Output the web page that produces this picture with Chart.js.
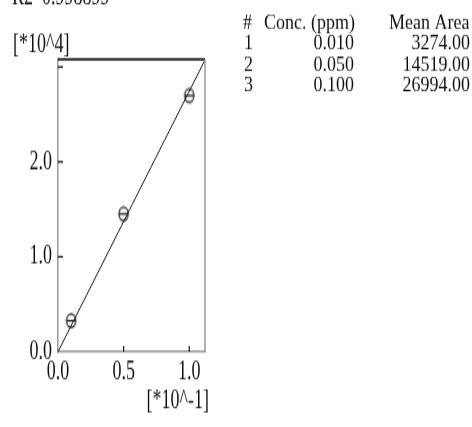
<!DOCTYPE html>
<html>
<head>
<meta charset="utf-8">
<script src="https://cdn.jsdelivr.net/npm/chart.js@4"></script>
<style>
  html, body { margin: 0; padding: 0; background: #fff; width: 472px; height: 427px; overflow: hidden; }
  #outer { position: relative; width: 472px; height: 427px; overflow: hidden; }
  #wrap { position: absolute; left: 0; top: 0; width: 472px; height: 295px; transform-origin: 0 0; transform: scale(1, 1.4475); }
  canvas { display: block; }
</style>
</head>
<body>
<div id="outer"><div id="wrap"><canvas id="c" width="472" height="295"></canvas></div></div>
<script>
// ---- data ----
const sampleNo   = [1, 2, 3];
const concPpm    = [0.010, 0.050, 0.100];
const meanArea   = [3274.00, 14519.00, 26994.00];
const r2Value    = "0.998899";
const xTickValues = [0.0, 0.5, 1.0];   // in units of 10^-1 ppm
const yTickValues = [0, 1, 2, 3];      // in units of 10^4
const xUnitLabel = "[*10^-1]";
const yUnitLabel = "[*10^4]";
const xMax = 1.12, yMax = 3.08;

// plot units
const xs = concPpm.map(c => c * 10);
const ys = meanArea.map(a => a / 1e4);
// calibration fit through origin
const fitSlope = xs.reduce((s, x, i) => s + x * ys[i], 0) / xs.reduce((s, x) => s + x * x, 0);

const FONT = "'Liberation Serif', 'Times New Roman', serif";

// theta-shaped marker
function makeMarker() {
  const c = document.createElement('canvas');
  c.width = 13; c.height = 13;
  const g = c.getContext('2d');
  g.strokeStyle = '#111'; g.lineWidth = 1.2;
  g.beginPath(); g.arc(6.5, 6.5, 4.6, 0, Math.PI * 2); g.stroke();
  g.beginPath(); g.moveTo(2.2, 6.5); g.lineTo(10.8, 6.5); g.stroke();
  return c;
}

function squatText(ctx, txt, x, y, sy) {
  ctx.save();
  ctx.translate(x, y);
  ctx.scale(1, sy);
  ctx.fillText(txt, 0, 0);
  ctx.restore();
}

const decor = {
  id: 'decor',
  afterDraw(chart) {
    const ctx = chart.ctx, a = chart.chartArea;
    const xs_ = chart.scales.x, ys_ = chart.scales.y;
    ctx.save();
    // frame: top black, right gray
    ctx.strokeStyle = '#000'; ctx.lineWidth = 1.5;
    ctx.beginPath(); ctx.moveTo(a.left, a.top); ctx.lineTo(a.right, a.top); ctx.stroke();
    ctx.strokeStyle = '#999'; ctx.lineWidth = 1.5;
    ctx.beginPath(); ctx.moveTo(a.right, a.top); ctx.lineTo(a.right, a.bottom); ctx.stroke();
    // inward tick marks
    ctx.strokeStyle = '#111'; ctx.lineWidth = 1.2;
    ys_.ticks.forEach(t => {
      if (t.value === 0) return;
      const p = ys_.getPixelForValue(t.value);
      ctx.beginPath(); ctx.moveTo(a.left, p); ctx.lineTo(a.left + 5, p); ctx.stroke();
    });
    xs_.ticks.forEach(t => {
      if (t.value === 0) return;
      const p = xs_.getPixelForValue(t.value);
      ctx.beginPath(); ctx.moveTo(p, a.bottom); ctx.lineTo(p, a.bottom - 4); ctx.stroke();
    });
    // texts
    ctx.fillStyle = '#111';
    ctx.font = '18px ' + FONT;
    ctx.textBaseline = 'alphabetic';
    ctx.textAlign = 'left';
    ctx.fillText('R2  ' + r2Value, 12, 2.5);
    ctx.fillText(yUnitLabel, 13, 36);
    ctx.textAlign = 'right';
    ctx.fillText(xUnitLabel, 209, 282);
    // table
    const sy = 0.8;
    const base = [19.5, 34.0, 48.5, 63.0];
    ctx.textAlign = 'left';
    squatText(ctx, '#', 243, base[0], sy);
    squatText(ctx, 'Conc. (ppm)', 264, base[0], sy);
    squatText(ctx, 'Mean Area', 389, base[0], sy);
    sampleNo.forEach((n, i) => {
      ctx.textAlign = 'left';
      squatText(ctx, String(n), 244, base[i + 1], sy);
      ctx.textAlign = 'right';
      squatText(ctx, concPpm[i].toFixed(3), 354, base[i + 1], sy);
      squatText(ctx, meanArea[i].toFixed(2), 470, base[i + 1], sy);
    });
    ctx.restore();
  }
};

new Chart(document.getElementById('c'), {
  type: 'scatter',
  data: {
    datasets: [
      {
        type: 'line',
        data: [{ x: 0, y: 0 }, { x: xMax, y: fitSlope * xMax }],
        borderColor: '#111', borderWidth: 1, pointRadius: 0, fill: false, tension: 0
      },
      {
        type: 'scatter',
        data: xs.map((x, i) => ({ x: x, y: ys[i] })),
        pointStyle: makeMarker(), pointRadius: 5
      }
    ]
  },
  options: {
    responsive: false,
    animation: false,
    devicePixelRatio: 1,
    layout: { padding: { top: 41, right: 267, bottom: 0, left: 0 } },
    plugins: { legend: { display: false }, tooltip: { enabled: false } },
    scales: {
      x: {
        type: 'linear', min: 0, max: xMax,
        afterBuildTicks: s => { s.ticks = xTickValues.map(v => ({ value: v })); },
        afterFit: s => { s.height = 52; },
        grid: { display: false, drawTicks: false },
        border: { color: '#999', width: 1.5 },
        ticks: { padding: 3, color: '#111', font: { family: FONT, size: 18 }, maxRotation: 0,
                 callback: v => Number(v).toFixed(1) }
      },
      y: {
        type: 'linear', min: 0, max: yMax,
        afterBuildTicks: s => { s.ticks = yTickValues.map(v => ({ value: v })); },
        afterFit: s => { s.width = 58; },
        grid: { display: false, drawTicks: false },
        border: { color: '#999', width: 1.5 },
        ticks: { padding: 6, color: '#111', font: { family: FONT, size: 18 },
                 callback: v => (v >= 3 ? '' : Number(v).toFixed(1)) }
      }
    }
  },
  plugins: [decor]
});
</script>
</body>
</html>
